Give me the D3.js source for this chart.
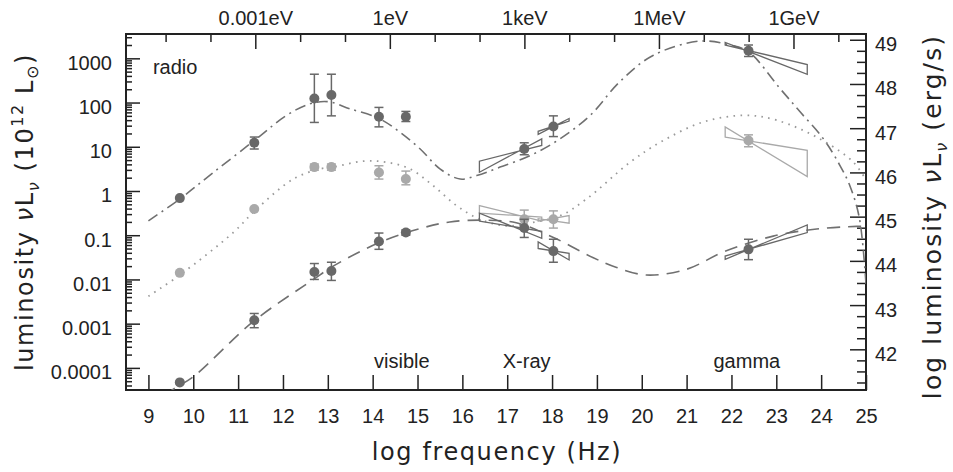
<!DOCTYPE html>
<html><head><meta charset="utf-8">
<script src="https://cdn.jsdelivr.net/npm/d3@7"></script>
<style>body{margin:0;background:#fff}</style>
</head><body>
<svg id="c" width="953" height="472"></svg>
<script>
// ---------- data (log10 frequency in Hz, luminosity in 10^12 Lsun) ----------
const logFreq = [9.70, 11.36, 12.70, 13.08, 14.14, 14.74, 17.38, 18.03, 22.38];

const topLum = [0.69, 12.3, 123, 148, 47.9, 47.9, 8.9, 28.8, 1480];
const topLo  = [null, 8.9, 35.5, 50, 28.2, 37.2, 6.6, 17, 1100];
const topHi  = [null, 16.6, 437, 437, 77.6, 63, 12.3, 50, 2000];

const midLum = [0.0141, 0.39, 3.47, 3.47, 2.63, 1.86, 0.229, 0.229, 13.8];
const midLo  = [null, null, 2.95, 2.95, 1.86, 1.38, 0.145, 0.145, 10];
const midHi  = [null, null, 4.07, 4.07, 3.72, 2.82, 0.37, 0.355, 18.6];

const botLum = [0.000047, 0.0012, 0.0148, 0.0155, 0.072, 0.115, 0.145, 0.0437, 0.0479];
const botLo  = [null, 0.00081, 0.010, 0.0095, 0.048, 0.10, 0.089, 0.0245, 0.028];
const botHi  = [null, 0.0017, 0.0229, 0.0245, 0.112, 0.132, 0.229, 0.081, 0.081];

// model curves: [log frequency, log10 luminosity]
const curveTop = [[9.0,-0.675],[9.7,-0.18],[10.45,0.42],[11.41,1.18],[12.08,1.71],[12.6,1.97],[13.0,2.02],[13.49,1.86],[14.14,1.64],[14.61,1.33],[15.06,0.95],[15.5,0.5],[15.95,0.27],[16.32,0.35],[16.84,0.54],[17.51,0.80],[18.18,1.18],[18.85,1.71],[19.51,2.47],[20.26,3.07],[21.3,3.39],[21.97,3.30],[22.38,3.15],[23.08,2.32],[23.53,1.79],[24.05,1.18],[24.42,0.575],[24.64,0.12],[24.85,-0.6],[25.0,-2.1]];
const curveMid = [[9.0,-2.38],[9.7,-1.9],[10.89,-0.94],[11.4,-0.42],[12.23,0.27],[12.83,0.5],[13.12,0.54],[13.79,0.675],[14.31,0.65],[14.83,0.5],[15.35,0.12],[15.87,-0.33],[16.39,-0.64],[16.99,-0.79],[17.58,-0.71],[18.18,-0.56],[18.77,-0.18],[19.74,0.65],[20.41,1.1],[21.37,1.56],[22.3,1.71],[23.01,1.6],[23.97,1.18],[24.72,0.65],[25.0,0.25]];
const curveBot = [[9.0,-4.95],[9.53,-4.5],[10.0,-4.2],[11.34,-2.95],[12.68,-2.0],[13.12,-1.70],[14.14,-1.17],[15.06,-0.85],[15.72,-0.70],[16.5,-0.66],[17.2,-0.72],[18.03,-1.05],[18.92,-1.51],[19.44,-1.73],[20.1,-1.90],[21.0,-1.77],[21.82,-1.38],[22.93,-1.02],[23.9,-0.86],[24.79,-0.80],[25.0,-0.80]];

// bow-ties: [logFreqLeft, logFreqRight, leftLo, leftHi, rightLo, rightHi] (log10 luminosity)
const bowTop = [[16.38,17.77,0.425,0.675,1.03,1.18],[17.69,18.38,1.28,1.35,1.58,1.64],[21.86,23.69,3.30,3.36,2.64,2.86]];
const bowMid = [[16.38,17.77,-0.50,-0.33,-0.68,-0.59],[17.69,18.38,-0.68,-0.625,-0.727,-0.557],[21.86,23.69,1.22,1.45,0.325,0.92]];
const bowBot = [[16.38,17.77,-0.68,-0.50,-1.07,-0.91],[17.69,18.38,-1.30,-1.15,-1.56,-1.41],[21.86,23.69,-1.545,-1.47,-0.94,-0.766]];

// axes tick labels
const xTicks = [9,10,11,12,13,14,15,16,17,18,19,20,21,22,23,24,25];
const yTicks = [0.0001, 0.001, 0.01, 0.1, 1, 10, 100, 1000];
const yTickLabels = ["0.0001","0.001","0.01","0.1","1","10","100","1000"];
const rTicks = [42,43,44,45,46,47,48,49];
const energyTicks = [11.383, 14.383, 17.383, 20.383, 23.383];
const energyLabels = ["0.001eV","1eV","1keV","1MeV","1GeV"];
const energyMinor = [9.383,10.383,12.383,13.383,15.383,16.383,18.383,19.383,21.383,22.383,24.383];
const regionLabels = [["radio",9.1,2.65],["visible",14.03,-4.0],["X-ray",16.9,-4.0],["gamma",21.6,-4.0]];

// ---------- drawing ----------
const svg = d3.select("#c");
const L = 126, R = 866, T = 34, B = 390;
const x = d3.scaleLinear().domain([8.5, 25]).range([L, R]);
const y = d3.scaleLog().domain([Math.pow(10,-4.5), Math.pow(10,3.55)]).range([B, T]);
const yR = d3.scaleLinear().domain([45.58-4.5, 45.58+3.55]).range([B, T]);
const yl = v => y(Math.pow(10, v));

const ink = "#222", dark = "#686868", light = "#a9a9a9";
const tickFont = "Liberation Sans, Arial, sans-serif";

svg.append("defs").append("clipPath").attr("id","clip")
  .append("rect").attr("x",L).attr("y",T).attr("width",R-L).attr("height",B-T);

function styleAxis(g){
  g.select(".domain").remove();
  g.selectAll("line").attr("stroke", ink).attr("stroke-width",1.5);
  g.selectAll("text").attr("font-family", tickFont).attr("font-size",20).attr("fill",ink);
}

// bottom
svg.append("g").attr("transform",`translate(0,${B})`)
  .call(d3.axisBottom(x).tickValues(xTicks).tickSize(-15).tickPadding(19).tickFormat(d3.format("d")))
  .call(styleAxis);
// top major + minor
svg.append("g").attr("transform",`translate(0,${T})`)
  .call(d3.axisTop(x).tickValues(energyTicks).tickSize(-15).tickPadding(9).tickFormat((d,i)=>energyLabels[i]))
  .call(styleAxis);
svg.append("g").attr("transform",`translate(0,${T})`)
  .call(d3.axisTop(x).tickValues(energyMinor).tickSize(-8).tickFormat(""))
  .call(styleAxis);
// left major + minor
svg.append("g").attr("transform",`translate(${L},0)`)
  .call(d3.axisLeft(y).tickValues(yTicks).tickSize(-14).tickPadding(14).tickFormat((d,i)=>yTickLabels[i]))
  .call(styleAxis)
  .selectAll("text").attr("dy","0.55em");
const minorY = [];
for (let e=-5; e<=3; e++) for (let k=2;k<=9;k++){ const v=k*Math.pow(10,e); if (v>=y.domain()[0] && v<=y.domain()[1]) minorY.push(v); }
svg.append("g").attr("transform",`translate(${L},0)`)
  .call(d3.axisLeft(y).tickValues(minorY).tickSize(-6).tickFormat(""))
  .call(styleAxis);
// right major + minor
svg.append("g").attr("transform",`translate(${R},0)`)
  .call(d3.axisRight(yR).tickValues(rTicks).tickSize(-16).tickPadding(9).tickFormat(d3.format("d")))
  .call(styleAxis)
  .selectAll("text").attr("dy","0.55em");
const minorR = [];
for (let v=41.25; v<49.2; v+=0.25) if (Math.abs(v-Math.round(v))>0.01) minorR.push(v);
svg.append("g").attr("transform",`translate(${R},0)`)
  .call(d3.axisRight(yR).tickValues(minorR).tickSize(-9).tickFormat(""))
  .call(styleAxis);

// frame
svg.append("rect").attr("x",L).attr("y",T).attr("width",R-L).attr("height",B-T)
  .attr("fill","none").attr("stroke",ink).attr("stroke-width",2);

const plot = svg.append("g").attr("clip-path","url(#clip)");

// curves
const line = d3.line().x(d=>x(d[0])).y(d=>yl(d[1])).curve(d3.curveCatmullRom.alpha(0.5));
plot.append("path").datum(curveTop).attr("d",line).attr("fill","none")
  .attr("stroke","#707070").attr("stroke-width",1.6).attr("stroke-dasharray","11,5,2,5");
plot.append("path").datum(curveMid).attr("d",line).attr("fill","none")
  .attr("stroke","#9a9a9a").attr("stroke-width",1.8).attr("stroke-dasharray","1.6,5.4");
plot.append("path").datum(curveBot).attr("d",line).attr("fill","none")
  .attr("stroke","#707070").attr("stroke-width",1.6).attr("stroke-dasharray","13,8");

// bow-ties
function bowties(data, color){
  plot.selectAll(null).data(data).enter().append("path")
    .attr("d", b => {
      const pts = [[b[0],b[2]],[b[1],b[5]],[b[1],b[4]],[b[0],b[3]]];
      return "M" + pts.map(p=>[x(p[0]),yl(p[1])].join(",")).join("L") + "Z";
    })
    .attr("fill","none").attr("stroke",color).attr("stroke-width",1.3);
}
bowties(bowTop, dark);
bowties(bowMid, light);
bowties(bowBot, dark);

// points with error bars
function series(vals, lo, hi, color){
  const g = plot.append("g");
  logFreq.forEach((f,i)=>{
    if (lo[i] != null){
      const cx = x(f);
      g.append("line").attr("x1",cx).attr("x2",cx).attr("y1",y(lo[i])).attr("y2",y(hi[i]))
        .attr("stroke",color).attr("stroke-width",1.5);
      [lo[i],hi[i]].forEach(v=>g.append("line").attr("x1",cx-4.5).attr("x2",cx+4.5)
        .attr("y1",y(v)).attr("y2",y(v)).attr("stroke",color).attr("stroke-width",1.5));
    }
  });
  g.selectAll("circle").data(vals).enter().append("circle")
    .attr("cx",(d,i)=>x(logFreq[i])).attr("cy",d=>y(d)).attr("r",5).attr("fill",color);
}
series(topLum, topLo, topHi, dark);
series(midLum, midLo, midHi, light);
series(botLum, botLo, botHi, dark);

// region labels
svg.selectAll(null).data(regionLabels).enter().append("text")
  .attr("x",d=>x(d[1])).attr("y",d=>yl(d[2]))
  .attr("font-family",tickFont).attr("font-size",20).attr("fill",ink).text(d=>d[0]);

// axis titles
const titleFont = "DejaVu Sans, sans-serif";
svg.append("text").attr("x",497).attr("y",460).attr("text-anchor","middle")
  .attr("font-family",titleFont).attr("font-size",24).attr("letter-spacing",1.6).attr("fill",ink)
  .text("log frequency (Hz)");

const lt = svg.append("text").attr("transform","translate(33,212) rotate(-90)")
  .attr("text-anchor","middle").attr("font-family",titleFont).attr("font-size",24)
  .attr("letter-spacing",1.6).attr("fill",ink);
lt.append("tspan").text("luminosity ");
lt.append("tspan").attr("font-style","italic").text("ν");
lt.append("tspan").text("L");
lt.append("tspan").attr("font-style","italic").attr("font-size",16).attr("dy",6).text("ν");
lt.append("tspan").attr("dy",-6).text(" (10");
lt.append("tspan").attr("font-size",16).attr("dy",-10).text("12");
lt.append("tspan").attr("dy",10).text(" L");
lt.append("tspan").attr("font-size",16).attr("dy",5).text("⊙");
lt.append("tspan").attr("dy",-5).text(")");

const rt = svg.append("text").attr("transform","translate(941,216.5) rotate(-90)")
  .attr("text-anchor","middle").attr("font-family",titleFont).attr("font-size",25)
  .attr("letter-spacing",2.1).attr("fill",ink);
rt.append("tspan").text("log  luminosity  ");
rt.append("tspan").attr("font-style","italic").text("ν");
rt.append("tspan").text("L");
rt.append("tspan").attr("font-style","italic").attr("font-size",16).attr("dy",6).text("ν");
rt.append("tspan").attr("dy",-6).text("  (erg/s)");
</script>
</body></html>
